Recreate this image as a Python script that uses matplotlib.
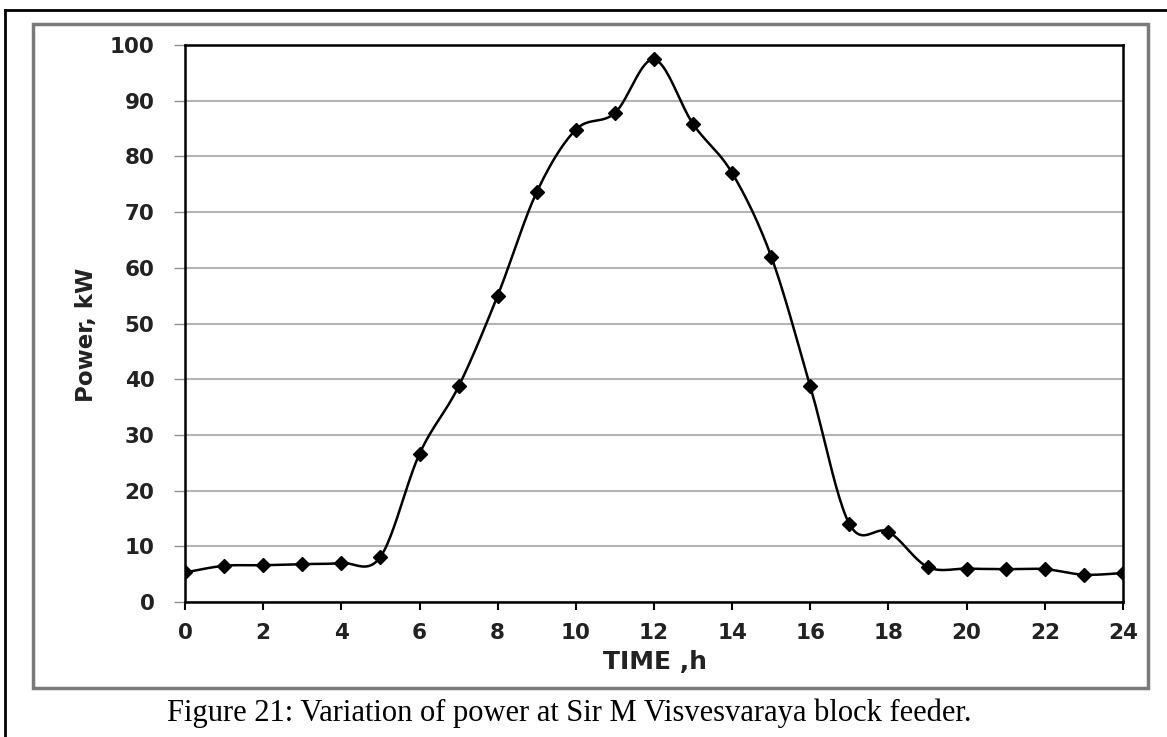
import numpy as np
import matplotlib.pyplot as plt
from matplotlib.patches import Rectangle
from matplotlib.lines import Line2D

# hourly feeder power readings
hours = np.arange(0, 25)
power_kw = [5.3, 6.5, 6.6, 6.8, 7.0, 8.1, 26.6, 38.7, 55.0, 73.6, 84.8, 87.8, 97.4,
            85.8, 77.0, 62.0, 38.7, 14.0, 12.6, 6.3, 6.0, 5.9, 5.9, 4.9, 5.2]
x_ticks = np.arange(0, 25, 2)
y_ticks = np.arange(0, 101, 10)
caption = "Figure 21: Variation of power at Sir M Visvesvaraya block feeder."


# smooth line through the points (Bezier segments, Catmull-Rom tangents)
def smooth(x, y, n=24):
    x = np.asarray(x, float)
    y = np.asarray(y, float)
    px = np.concatenate([[x[0]], x, [x[-1]]])
    py = np.concatenate([[y[0]], y, [y[-1]]])
    t = np.linspace(0, 1, n)[:, None]
    xs, ys = [], []
    for i in range(1, len(px) - 2):
        p0 = np.array([px[i], py[i]])
        p3 = np.array([px[i + 1], py[i + 1]])
        c1 = p0 + (np.array([px[i + 1], py[i + 1]]) - np.array([px[i - 1], py[i - 1]])) / 6
        c2 = p3 - (np.array([px[i + 2], py[i + 2]]) - np.array([px[i], py[i]])) / 6
        pts = ((1 - t) ** 3) * p0 + 3 * ((1 - t) ** 2) * t * c1 + 3 * (1 - t) * t ** 2 * c2 + t ** 3 * p3
        xs.append(pts[:, 0])
        ys.append(pts[:, 1])
    return np.concatenate(xs), np.concatenate(ys)


fig = plt.figure(figsize=(11.67, 7.37), dpi=100)
ax = fig.add_axes([185 / 1167, 1 - 602 / 737, 938 / 1167, 557 / 737])

sx, sy = smooth(hours, power_kw)
ax.plot(sx, sy, color='black', linewidth=1.8, zorder=3)
ax.plot(hours, power_kw, linestyle='none', marker='D', markersize=7.5,
        color='black', zorder=4)

ax.set_xlim(0, 24)
ax.set_ylim(0, 100)
ax.set_xticks(x_ticks)
ax.set_yticks(y_ticks)
ax.yaxis.grid(True, color='#b4b4b4', linewidth=1.5)
ax.set_axisbelow(True)
for s in ax.spines.values():
    s.set_linewidth(1.8)
    s.set_color('black')

ax.tick_params(axis='x', direction='out', length=6, width=1.5, pad=9)
ax.tick_params(axis='y', direction='out', length=8, width=1.0, color='#909090', pad=14)
for lab in ax.get_xticklabels() + ax.get_yticklabels():
    lab.set_fontfamily('DejaVu Sans')
    lab.set_fontweight('bold')
    lab.set_fontsize(15.5)
    lab.set_color('#222222')

ax.set_xlabel("TIME ,h", family='DejaVu Sans', weight='bold', fontsize=18, color='#222222')
ax.set_ylabel("Power, kW", family='DejaVu Sans', weight='bold', fontsize=16.5, color='#222222')
ax.xaxis.set_label_coords(0.501, -0.086)
ax.yaxis.set_label_coords(-0.093, 0.48)

# grey frame around the chart and page border
fig.patches.append(Rectangle((33 / 1167, 1 - 688 / 737), 1115 / 1167, 664 / 737,
                             transform=fig.transFigure, fill=False,
                             edgecolor='#7a7a7a', linewidth=2.5))
fig.lines.append(Line2D([5 / 1167, 1], [1 - 10 / 737, 1 - 10 / 737],
                        transform=fig.transFigure, color='black', linewidth=2))
fig.lines.append(Line2D([5 / 1167, 5 / 1167], [0, 1 - 10 / 737],
                        transform=fig.transFigure, color='black', linewidth=2))

fig.text(569 / 1167, 1 - 713 / 737, caption, family='Liberation Serif',
         fontsize=22, ha='center', va='center', color='black')

fig.savefig('out.png', dpi=100)
